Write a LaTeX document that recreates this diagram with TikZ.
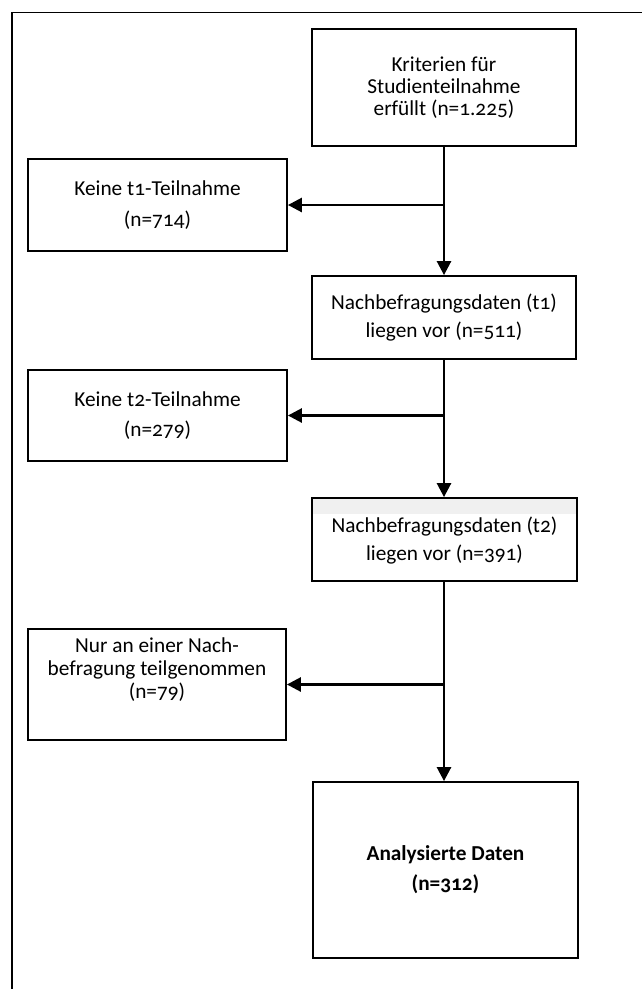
\documentclass[tikz,border=0pt]{standalone}
\usepackage{fontspec}
\setmainfont{Carlito}[Numbers=OldStyle]
\usetikzlibrary{arrows.meta}
\begin{document}
\begin{tikzpicture}[x=1pt,y=-1pt,
  box/.style={draw, line width=1.8pt, align=center, inner sep=0pt},
  txt/.style={align=center, inner sep=0pt},
  conn/.style={line width=2.6pt, -{Triangle[length=14pt,width=14pt]}},
]
\useasboundingbox (0,0) rectangle (642,989);
% outer frame (only top and left edges visible)
\draw[line width=1.3pt] (12,995) -- (12,12.7) -- (650,12.7);

\node[box, minimum width=264pt, minimum height=117pt, font=\fontsize{21.3}{21.7}\selectfont] (b1) at (444,87.5)
  {Kriterien für\\Studienteilnahme\\erfüllt (n=1.225)};
\node[box, minimum width=259pt, minimum height=92pt, font=\fontsize{21.3}{31}\selectfont] (b2) at (157.5,205)
  {Keine t1-Teilnahme\\(n=714)};
\node[box, minimum width=264pt, minimum height=83pt, font=\fontsize{21.3}{28}\selectfont] (b3) at (444,317.5)
  {Nachbefragungsdaten (t1)\\liegen vor (n=511)};
\node[box, minimum width=259pt, minimum height=91pt, font=\fontsize{21.3}{30}\selectfont] (b4) at (157.5,415.5)
  {Keine t2-Teilnahme\\(n=279)};
\node[box, minimum width=265pt, minimum height=83pt] (b5) at (444.5,539.5) {};
\fill[black!6] ([shift={(1.8,1.8)}]b5.north west) rectangle ([shift={(-1.8,17)}]b5.north east);
\node[txt, font=\fontsize{21.3}{28}\selectfont] (t5) at (444.5,541)
  {Nachbefragungsdaten (t2)\\liegen vor (n=391)};
\node[box, minimum width=258pt, minimum height=111pt] (b6) at (157,684.5) {};
\node[txt, font=\fontsize{21.3}{23}\selectfont] (t6) at (157,670)
  {Nur an einer Nach-\\befragung teilgenommen\\(n=79)};
\node[box, minimum width=265pt, minimum height=176pt, font=\bfseries\fontsize{21.3}{30}\selectfont] (b7) at (445.5,870)
  {Analysierte Daten\\(n=312)};

\draw[conn] (b1.south) -- (b3.north);
\draw[conn] (b2.east -| b1.south) -- (b2.east);
\draw[conn] (b3.south) -- (b3.south |- b5.north);
\draw[conn] (b4.east -| b3.south) -- (b4.east);
\draw[conn] (b3.south |- b5.south) -- (b3.south |- b7.north);
\draw[conn] (b6.east -| b3.south) -- (b6.east);
\end{tikzpicture}
\end{document}
